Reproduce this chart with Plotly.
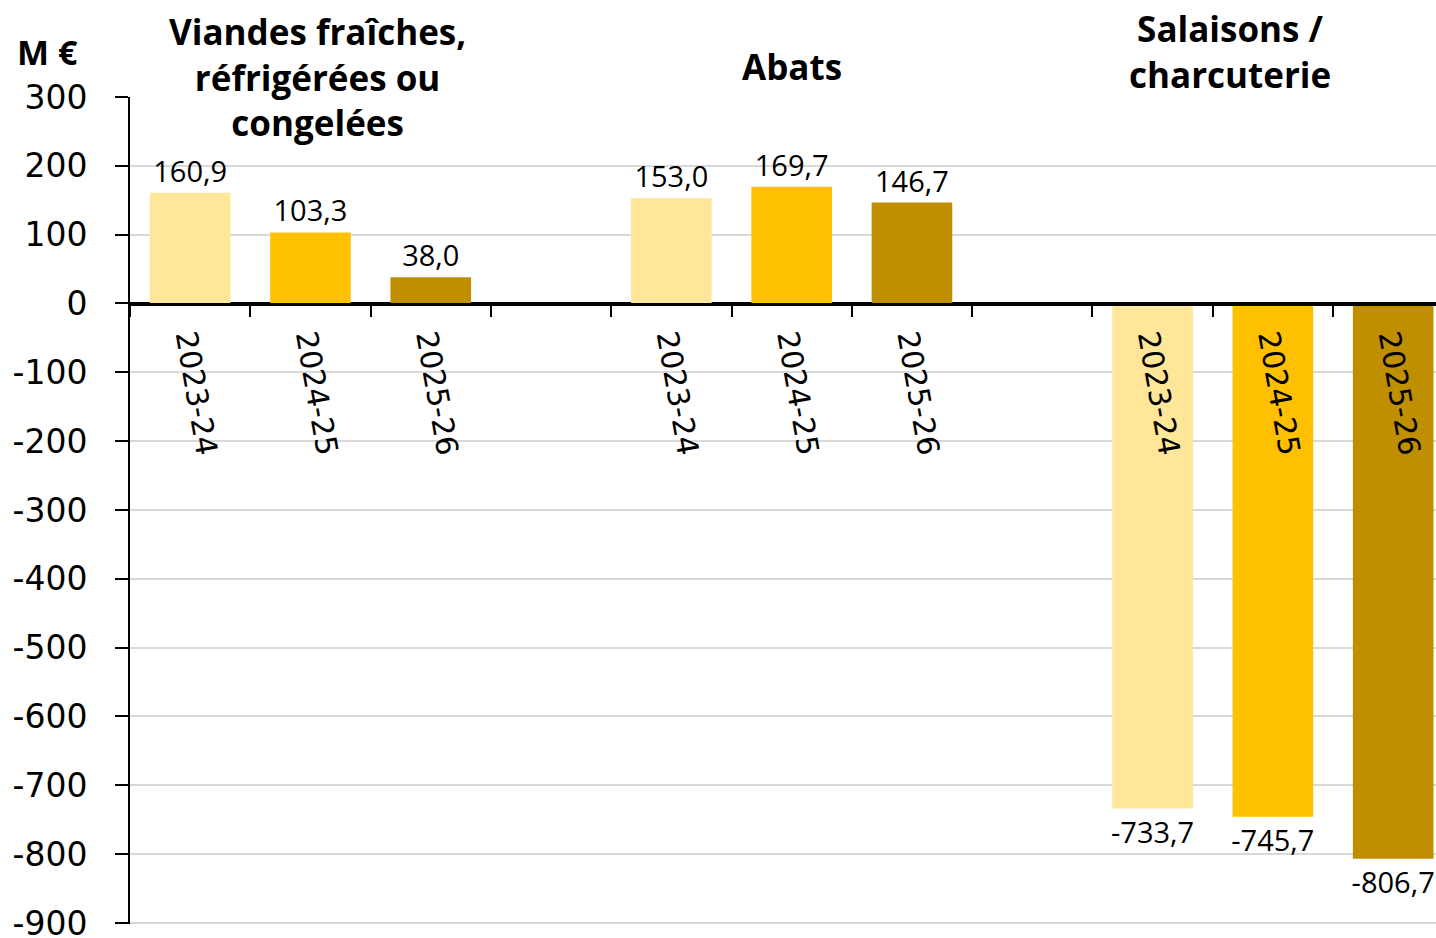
import plotly.graph_objects as go

# data (M €)
groups = ["Viandes fraîches,<br>réfrigérées ou<br>congelées", "Abats", "Salaisons /<br>charcuterie"]
years = ["2023-24", "2024-25", "2025-26"]
viandes = [160.9, 103.3, 38.0]
abats = [153.0, 169.7, 146.7]
salaisons = [-733.7, -745.7, -806.7]
y_ticks = list(range(-900, 301, 100))

year_colors = ["#FFE699", "#FFC000", "#BF8F00"]

series = [viandes, abats, salaisons]

# one slot per bar, an empty slot between groups
x_pos, vals, cols, labels, texts = [], [], [], [], []
for g, values in enumerate(series):
    for i, v in enumerate(values):
        x_pos.append(g * 4 + i)
        vals.append(v)
        cols.append(year_colors[i])
        labels.append(years[i])
        texts.append(f"{v:.1f}".replace(".", ","))

n_slots = len(series) * 4 - 1
boundaries = [s - 0.5 for s in range(n_slots + 1)]

fig = go.Figure()
fig.add_trace(go.Bar(
    x=x_pos, y=vals,
    marker=dict(color=cols, line=dict(width=0)),
    width=0.67,
    text=texts,
    textposition="outside",
    constraintext="none",
    cliponaxis=False,
    textfont=dict(family="Open Sans", size=29, color="black"),
    hoverinfo="skip",
))

title_shift = [(7, 20), (0, 31), (-43, 46)]
for g, name in enumerate(groups):
    fig.add_annotation(
        x=g * 4 + 1, xref="x", y=1, yref="paper",
        xshift=title_shift[g][0], yshift=title_shift[g][1],
        text=f"<b>{name}</b>", showarrow=False,
        xanchor="center", yanchor="middle",
        font=dict(family="Open Sans", size=35, color="black"),
    )

fig.add_annotation(
    x=0, xref="paper", y=1, yref="paper", xshift=-50, yshift=45,
    text="<b>M €</b>", showarrow=False, xanchor="right", yanchor="middle",
    font=dict(family="Open Sans", size=34, color="black"),
)

fig.update_layout(
    width=1436, height=938,
    margin=dict(l=130, r=0, t=97, b=14, autoexpand=False),
    plot_bgcolor="white", paper_bgcolor="white",
    showlegend=False,
    xaxis=dict(
        range=[-0.5, 10.356], automargin=False,
        anchor="free", position=0.75,
        showline=True, linecolor="black", linewidth=3,
        showgrid=False, zeroline=False,
        tickmode="array", tickvals=x_pos, ticktext=labels,
        ticks="", tickangle=80, ticklabelstandoff=4,
        tickfont=dict(family="DejaVu Sans", size=30, color="black"),
        minor=dict(tickmode="array", tickvals=boundaries, ticks="outside",
                   ticklen=11, tickwidth=2, tickcolor="black", showgrid=False),
    ),
    yaxis=dict(
        range=[-901.5, 300], domain=[0, 1], automargin=False,
        tickmode="array", tickvals=y_ticks, ticktext=[str(v) for v in y_ticks],
        showgrid=True, gridcolor="#D9D9D9", gridwidth=2,
        showline=True, linecolor="black", linewidth=2,
        ticks="outside", ticklen=13, tickwidth=2, tickcolor="black",
        ticklabelstandoff=21, ticklabeloverflow="allow",
        zeroline=True, zerolinecolor="black", zerolinewidth=3,
        tickfont=dict(family="DejaVu Sans", size=33, color="black"),
    ),
)

# drop the default body margin so the figure fills the window exactly
fig.write_html("out.html", config={"displayModeBar": False},
               post_script="document.body.style.margin='0';document.body.style.overflow='hidden';")
